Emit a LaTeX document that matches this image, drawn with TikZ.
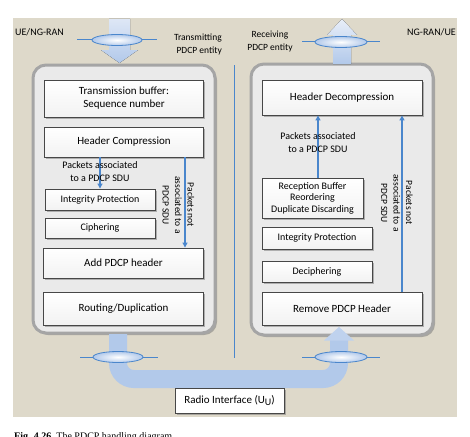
\documentclass[tikz,border=0pt]{standalone}
\usepackage{fontspec}
\setmainfont{Carlito}
\newfontfamily\capfont{Liberation Serif}
\usetikzlibrary{shadows,arrows.meta}
\definecolor{beige}{RGB}{222,217,202}
\definecolor{panelfill}{RGB}{234,234,234}
\definecolor{paneledge}{RGB}{165,165,165}
\definecolor{lineblue}{RGB}{74,134,204}
\definecolor{pipeblue}{RGB}{178,201,234}
\definecolor{pipelight}{RGB}{222,231,246}
\tikzset{
  panelbox/.style={rounded corners=13pt, fill=panelfill, draw=paneledge, line width=3pt,
    drop shadow={shadow xshift=2pt, shadow yshift=-2pt, fill=black!55}},
  procbox/.style={draw=black!72, line width=0.9pt, top color=white, bottom color=gray!10,
    drop shadow={shadow xshift=1.6pt, shadow yshift=-1.6pt, fill=black!55},
    align=center, inner sep=1pt, font=\fontsize{11}{13}\selectfont},
  smallbox/.style={procbox, font=\fontsize{10}{12}\selectfont},
  flowline/.style={draw=lineblue, line width=1.1pt, -{Triangle[width=5pt,length=5pt]}},
  plainline/.style={draw=lineblue, line width=1pt},
  lens/.style={inner color=white, outer color=pipeblue, draw=lineblue, line width=0.8pt},
  bigarrow/.style={top color=pipelight, bottom color=pipeblue},
  lbl/.style={font=\fontsize{10}{13}\selectfont, align=center, inner sep=0pt},
  rotlbl/.style={font=\fontsize{9.5}{12.5}\selectfont, align=center, inner sep=0pt, rotate=-90},
}
\begin{document}
\begin{tikzpicture}[x=1pt,y=-1pt]
\useasboundingbox (0,0) rectangle (470,436);
\fill[white] (0,0) rectangle (470,436);
\fill[beige] (13,18) rectangle (457,417);

% divider
\draw[plainline, line width=0.9pt] (234,65) -- (234,358);

% panels
\draw[panelbox] (33,65) rectangle (215,333);
\draw[panelbox] (251,64) rectangle (433,335);

% left boxes
\node[procbox, minimum width=159pt, minimum height=37pt] (tb) at (124,98.5) {Transmission buffer:\\Sequence number};
\node[procbox, minimum width=159pt, minimum height=30pt] (hc) at (124,142) {Header Compression};
\node[smallbox, minimum width=110pt, minimum height=21pt] (ip) at (100,199.5) {Integrity Protection};
\node[smallbox, minimum width=110pt, minimum height=20pt] (ci) at (100,228) {Ciphering};
\node[procbox, minimum width=160pt, minimum height=30pt] (ap) at (123.5,263) {Add PDCP header};
\node[procbox, minimum width=160pt, minimum height=33pt] (rd) at (123.5,308.5) {Routing/Duplication};

% right boxes
\node[procbox, minimum width=160pt, minimum height=35pt] (hd) at (342,97.5) {Header Decompression};
\node[smallbox, minimum width=101pt, minimum height=40pt, font=\fontsize{10}{11.5}\selectfont] (rb) at (312.5,198) {Reception Buffer\\Reordering\\Duplicate Discarding};
\node[smallbox, minimum width=110pt, minimum height=22pt] (ip2) at (317,238) {Integrity Protection};
\node[smallbox, minimum width=110pt, minimum height=21pt] (dc) at (317,271.5) {Deciphering};
\node[procbox, minimum width=160pt, minimum height=33pt] (rp) at (342,308.5) {Remove PDCP Header};

% connectors left
\coordinate (xl) at (185,0);
\draw[flowline] (hc.south -| ip.north) -- (ip.north);
\draw[flowline] (hc.south -| xl) -- (ap.north -| xl);
% connectors right
\coordinate (xa) at (318,0);
\coordinate (xr) at (402,0);
\draw[flowline] (rb.north -| xa) -- (hd.south -| xa);
\draw[flowline] (rp.north -| xr) -- (hd.south -| xr);

% labels
\node[lbl] (la) at (100,172) {Packets associated\\to a PDCP SDU};
\node[lbl] (ra) at (318,143) {Packets associated\\to a PDCP SDU};
\node[rotlbl] (ln) at (178.5,205) {Packets not\\associated to a\\PDCP SDU};
\node[rotlbl] (rn) at (397,203) {Packets not\\associated to a\\PDCP SDU};

\node[lbl, anchor=west] (ue) at (15,32) {UE/NG-RAN};
\node[lbl, anchor=east, align=right, font=\fontsize{9.5}{13}\selectfont] (tx) at (222,44) {Transmitting\\PDCP entity};
\node[lbl, font=\fontsize{9.5}{13}\selectfont] (rx) at (270,41) {Receiving\\PDCP entity};
\node[lbl, anchor=west] (ng) at (407,32) {NG-RAN/UE};

% top arrows
\fill[bigarrow] (109,19) -- (130,19) -- (130,50) -- (138,50) -- (119.5,63) -- (101,50) -- (109,50) -- cycle;
\draw[plainline] (77,40) -- (157,40);
\draw[lens] (117,40) ellipse [x radius=25, y radius=5.5];

\fill[bigarrow, top color=pipelight!70!white] (333,64) -- (333,35) -- (327,35) -- (342,19) -- (357,35) -- (351,35) -- (351,64) -- cycle;
\draw[plainline] (302,42) -- (380,42);
\draw[lens] (341,42) ellipse [x radius=26, y radius=5.5];

% bottom pipe
\coordinate (pa) at (118,334);
\coordinate (pb) at (118,379);
\coordinate (pc) at (339,379);
\coordinate (pd) at (339,340);
\draw[draw=pipeblue, line width=18pt, rounded corners=16pt] (pa) -- (pb) -- (pc) -- (pd);
\fill[pipeblue!70!pipelight] (324,340.5) -- (354,340.5) -- (339,327) -- cycle;
\draw[plainline] (80,357) -- (158,357);
\draw[lens] (118,357) ellipse [x radius=25, y radius=5.5];
\draw[plainline] (302,357) -- (380,357);
\draw[lens] (341,357) ellipse [x radius=26, y radius=5.5];

% radio interface
\node[procbox, minimum width=109pt, minimum height=25pt, top color=white, bottom color=white] (ri) at (229.5,400.5) {Radio Interface (U\raisebox{-2.5pt}{\fontsize{10}{10}\selectfont U})};

% caption (cut off at the bottom edge)
\begin{scope}
\clip (0,0) rectangle (470,436);
\node[anchor=base west, inner sep=0pt, font=\capfont\fontsize{10}{12}\selectfont] (cap) at (14,439.5) {\textbf{Fig. 4.26}\ \ The PDCP handling diagram};
\end{scope}
\end{tikzpicture}
\end{document}
